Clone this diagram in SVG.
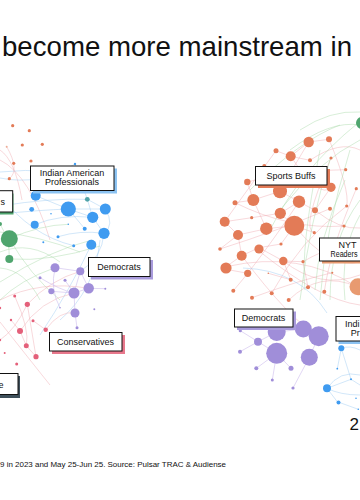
<svg xmlns="http://www.w3.org/2000/svg" width="360" height="500" viewBox="0 0 360 500">
<style>
.t{font-family:"Liberation Sans",Arial,sans-serif;fill:#111}
.lbl{font-size:9px}
.box{fill:#fff;stroke:#111;stroke-width:1}
.o{fill:#E37B57}.b{fill:#3F9BF0}.p{fill:#A08ED9}.g{fill:#4FA56E}.r{fill:#E4607A}.tl{fill:#4FA3A8}
.e{fill:none;stroke-width:0.7}
.eb{stroke:#9CCBF2;opacity:0.65}.eg{stroke:#A9D9A9;opacity:0.65}.er{stroke:#EFA3AB;opacity:0.6}.ep{stroke:#C9B7EC;opacity:0.8}
</style>
<rect width="360" height="500" fill="#fff"/>
<text class="t" x="2" y="56" font-size="28" textLength="350" lengthAdjust="spacingAndGlyphs">become more mainstream in</text>

<g id="connectors">
<path class="e er" d="M0,150 Q15,160 22,200 M6.7,146.7 Q20,170 9.3,178.7 M0,160 Q30,175 50,240"/>
<path class="e eb" d="M0,172 Q50,166 105,183 M0,178 Q40,186 75,164 M0,206 Q50,198 87.3,199.3 M0,214 Q40,210 68.3,209 M35.7,195.7 L68.3,209 L105.3,209 M68.3,209 L92.7,217.3 M87.3,199.3 L92.7,217.3 M87.3,199.3 L105.3,209 M92.7,217.3 L104,233.3 M68.3,209 L84.7,228.7 M34.7,224.7 Q60,214 92.7,217.3 M104,233.3 Q102,258 80.3,271.3 M91.3,244.7 Q70,290 40,335 M105.3,209 Q115,225 104,233.3 M75,164 L87.3,199.3 M58,236.7 Q80,230 104,233.3 M0,195 Q30,235 73.7,245.7 M100,240 Q95,290 60,320"/>
<path class="e eg" d="M0,232 Q40,236 80,252 M0,252 Q30,240 60,262 M9.3,238.7 Q30,275 60,300 M0,282 Q50,250 92,240 M9.3,259 Q50,262 100,246 M0,268 Q25,270 40,300 M9.3,238.7 Q40,225 68.3,224.3 M0,300 Q20,280 55,267.7 M9.3,259 Q10,240 0,224"/>
<path class="e er" d="M20,331 Q40,300 74,293 M27.3,304.3 L36,356.7 M20,331 L26.3,345.7 L36,356.7 M45.7,329.7 Q60,310 75,313 M0,300 Q40,280 88.7,288.3 M14.7,296 Q30,330 26.3,345.7 M0,322 Q30,360 50,385 M11,320 L20,331 M33,320.7 L45.7,329.7 M0,340 Q15,330 27.3,304.3 M27.3,304.3 Q50,280 80.3,271.3"/>
<path class="e ep" d="M55,267.7 L80.3,271.3 L74,293 L88.7,288.3 M51.3,291.3 L74,293 L75,313 M40,277.7 Q60,290 74,293 M55,267.7 Q50,290 60,307.7 M65,280.3 L74,293 M88.7,288.3 L105.3,288.7 M80.3,271.3 L88.7,288.3 M75,313 L77,327.7"/>
<path class="e er" d="M308.7,142 L329,139.3 M290.7,156.3 L308.7,142 M276,150.7 L290.7,156.3 L310,160.3 M264.3,166 L280,191.3 M247.3,182 L253.3,200 L280,191.3 L299,201.7 L315,210.3 L331,187.3 M235,202.7 L253.3,200 M253.3,200 L266.3,228.7 L294.3,225.7 L280.3,213.3 L299,201.7 M224.7,221.7 L238,235 L266.3,228.7 M224.7,221.7 L251.7,217.7 L280.3,213.3 M294.3,225.7 L314.3,232.7 M238,235 L241.7,255.7 L259,247.7 L283.3,261 M226,266.7 L241.7,255.7 M220,249 L238,235 M259,247.7 L281,244 L294.3,225.7 M247.7,273.3 L226,269.3 M290.7,279.7 L283.3,261 M308,287.3 L303,261.7 L283.3,261 M290.7,156.3 Q320,200 331,187.3 M276,150.7 Q240,200 224.7,221.7 M308.7,142 Q280,190 280,191.3 M331,158 Q300,230 314.3,232.7 M329,139.3 Q350,190 346.7,206 M264.3,166 Q300,175 331,187.3 M247.3,182 Q290,170 345.7,169.7 M235,202.7 Q290,230 344,226 M220,249 Q280,230 330,208.7 M226,266.7 Q300,250 356.7,286.7 M252,297.7 Q300,280 332.3,272.7 M233.3,290.7 Q260,260 299,201.7 M271.7,293.3 Q300,240 346.7,206 M288.7,300 Q320,270 356.7,286.7 M324.3,291.7 Q330,250 356.3,188.7 M268.3,273.3 L290.7,279.7 M303,261.7 Q340,240 360,250 M259,251 Q320,300 360,305 M241.7,255.7 Q290,320 318.7,336.3 M283.3,261 Q320,290 360,275 M310,160.3 Q340,140 360,150 M315,210.3 Q340,230 360,228 M294.3,225.7 Q330,270 360,262"/>
<path class="e eg" d="M300,130 Q330,110 360,112 M290,150 Q330,120 360,125 M300,300 Q310,220 330,160 M320,300 Q325,230 350,150 M330,300 Q330,240 360,200 M270,230 Q300,170 358,123 M250,190 Q300,140 340,125 M305,290 Q300,250 320,150 M315,290 Q318,240 345,180 M345,300 Q340,250 360,215 M280,210 Q320,160 360,140"/>
<path class="e eb" d="M243,268 Q300,270 327,313 M341.3,348.3 L337.3,368.7 M341.3,348.3 L351,379.3 M327,388.3 L351,379.3 M327,388.3 L338,402.7 M327,388.3 Q340,370 360,375 M327,388.3 Q340,395 360,395 M341.3,348.3 Q350,345 360,350 M339,402.3 L358.3,409.3 M351,379.3 L360,385"/>
<path class="e ep" d="M258,341.7 L276.7,332 L303.3,329 L318.7,336.3 M240,351.7 L258,341.7 M276.7,353.3 L258,341.7 M276.7,353.3 L291,368.3 M309.3,357.3 L318.7,336.3 M276.7,353.3 L272.3,380 M256.3,368.3 L276.7,353.3 M309.3,357.3 L293,388 M240.3,330.7 L258,341.7"/>
</g>

<g id="nodes-left">
<g class="o"><circle cx="12.7" cy="125.7" r="1.6"/><circle cx="29.3" cy="130.7" r="1.6"/><circle cx="22.3" cy="145" r="1.6"/><circle cx="42.3" cy="144.3" r="1.6"/><circle cx="13.7" cy="163.3" r="1.6"/><circle cx="31" cy="161" r="1.6"/><circle cx="9.3" cy="178.7" r="1.6"/><circle cx="6.7" cy="146.7" r="1" opacity="0.6"/></g>
<g class="b"><circle cx="75" cy="164" r="1.2"/><circle cx="35.7" cy="195.7" r="5"/><circle cx="31.7" cy="209.3" r="2.4"/><circle cx="68.3" cy="209" r="7.6"/><circle cx="105.3" cy="209" r="5.5"/><circle cx="92.7" cy="217.3" r="5.6"/><circle cx="34.7" cy="224.7" r="4"/><circle cx="51" cy="213.7" r="0.8"/><circle cx="68.3" cy="224.3" r="0.8"/><circle cx="84.7" cy="228.7" r="2"/><circle cx="104" cy="233.3" r="5.6"/><circle cx="58" cy="236.7" r="1.5"/><circle cx="43.3" cy="242.3" r="1"/><circle cx="73.7" cy="245.7" r="1.5"/><circle cx="91.3" cy="244.7" r="5"/></g>
<circle class="tl" cx="87.3" cy="199.3" r="2.4"/>
<g class="g"><circle cx="9.3" cy="238.7" r="8.5"/><circle cx="9.3" cy="259" r="4"/><circle cx="0" cy="224" r="2"/></g>
<g class="p"><circle cx="55" cy="267.7" r="4.5"/><circle cx="80.3" cy="271.3" r="4"/><circle cx="40" cy="277.7" r="1.5"/><circle cx="65" cy="280.3" r="1.5"/><circle cx="88.7" cy="288.3" r="5.2"/><circle cx="74" cy="293" r="5.5"/><circle cx="51.3" cy="291.3" r="3"/><circle cx="105.3" cy="288.7" r="1"/><circle cx="60" cy="307.7" r="0.8"/><circle cx="75" cy="313" r="4.5"/><circle cx="94.3" cy="309.3" r="1"/><circle cx="77" cy="327.7" r="1.5"/></g>
<g class="r"><circle cx="14.7" cy="296" r="1.5"/><circle cx="27.3" cy="304.3" r="2.6"/><circle cx="0" cy="308" r="1.2"/><circle cx="11" cy="320" r="1.2"/><circle cx="33" cy="320.7" r="1.5"/><circle cx="20" cy="331" r="3"/><circle cx="45.7" cy="329.7" r="2.2"/><circle cx="0" cy="340" r="1.2"/><circle cx="26.3" cy="345.7" r="2.5"/><circle cx="4.7" cy="353" r="1"/><circle cx="36" cy="356.7" r="2.6"/><circle cx="16.7" cy="364" r="1.5"/></g>
</g>

<g id="nodes-right">
<circle class="g" cx="362" cy="123" r="6"/>
<g class="o"><circle cx="308.7" cy="142" r="5.2"/><circle cx="329" cy="139.3" r="3"/><circle cx="276" cy="150.7" r="2.5"/><circle cx="290.7" cy="156.3" r="5"/><circle cx="310" cy="160.3" r="2"/><circle cx="331" cy="158" r="1.6"/><circle cx="345.7" cy="169.7" r="1.6"/><circle cx="264.3" cy="166" r="2"/><circle cx="247.3" cy="182" r="3.2"/><circle cx="331" cy="187.3" r="4.6"/><circle cx="356.3" cy="188.7" r="1.6"/><circle cx="280" cy="191.3" r="7"/><circle cx="253.3" cy="200" r="6"/><circle cx="299" cy="201.7" r="6.2"/><circle cx="235" cy="202.7" r="2.5"/><circle cx="315" cy="210.3" r="3"/><circle cx="330" cy="208.7" r="2"/><circle cx="346.7" cy="206" r="1.6"/><circle cx="280.3" cy="213.3" r="5.6"/><circle cx="251.7" cy="217.7" r="1.6"/><circle cx="224.7" cy="221.7" r="5"/><circle cx="294.3" cy="225.7" r="10"/><circle cx="266.3" cy="228.7" r="6.2"/><circle cx="344" cy="226" r="1.6"/><circle cx="238" cy="235" r="5"/><circle cx="314.3" cy="232.7" r="1.6"/><circle cx="220" cy="249" r="1.8"/><circle cx="259" cy="249" r="4.6"/><circle cx="281" cy="244" r="1.6"/><circle cx="241.7" cy="255.7" r="5"/><circle cx="226" cy="268" r="5.6"/><circle cx="247.7" cy="273.3" r="3.6"/><circle cx="283.3" cy="261" r="4.2"/><circle cx="303" cy="261.7" r="1.6"/><circle cx="268.3" cy="273.3" r="0.8"/><circle cx="290.7" cy="279.7" r="2"/><circle cx="332.3" cy="272.7" r="1"/><circle cx="233.3" cy="290.7" r="2"/><circle cx="271.7" cy="293.3" r="2"/><circle cx="252" cy="297.7" r="2"/><circle cx="308" cy="287.3" r="2"/><circle cx="324.3" cy="291.7" r="2"/><circle cx="288.7" cy="300" r="2"/></g>
<circle cx="358" cy="286.7" r="8.5" fill="#E89A70"/>
<g class="p"><circle cx="240.3" cy="330.7" r="1.6"/><circle cx="276.7" cy="332" r="9"/><circle cx="303.3" cy="329" r="8.5"/><circle cx="318.7" cy="336.3" r="10"/><circle cx="258" cy="341.7" r="4"/><circle cx="240" cy="351.7" r="2"/><circle cx="276.7" cy="353.3" r="10.5"/><circle cx="309.3" cy="357.3" r="8.5"/><circle cx="256.3" cy="368.3" r="2"/><circle cx="291" cy="368.3" r="2.5"/><circle cx="272.3" cy="380" r="1.5"/><circle cx="293" cy="388" r="1.6"/></g>
<g class="b"><circle cx="341.3" cy="348.3" r="3"/><circle cx="337.3" cy="368.7" r="0.9"/><circle cx="351" cy="379.3" r="1"/><circle cx="327" cy="388.3" r="4"/><circle cx="338.5" cy="402.5" r="2"/><circle cx="356" cy="398.3" r="0.8"/><circle cx="358.3" cy="409.3" r="0.8"/></g>
</g>

<g id="label-left-s"><rect x="-2" y="193.5" width="15.5" height="21" fill="#4FA56E"/><rect class="box" x="-2" y="190.7" width="14.7" height="21.3"/><text class="t lbl" x="5" y="204.5" text-anchor="end">s</text></g>
<g id="label-indian-american-left"><rect x="33" y="168.5" width="84" height="25" fill="#8CC3F2"/><rect class="box" x="30.5" y="166" width="83.5" height="24.5"/><text class="t lbl" text-anchor="middle" x="72" y="175.5">Indian American</text><text class="t lbl" text-anchor="middle" x="72" y="185">Professionals</text></g>
<g id="label-democrats-left"><rect x="91" y="260" width="62" height="19.5" fill="#A99BDC"/><rect class="box" x="88.5" y="257.5" width="61.5" height="19"/><text class="t lbl" text-anchor="middle" x="119" y="270">Democrats</text></g>
<g id="label-conservatives"><rect x="52" y="335" width="73" height="19" fill="#E8788C"/><rect class="box" x="49.5" y="332.5" width="72.5" height="18.5"/><text class="t lbl" text-anchor="middle" x="85.5" y="344.7">Conservatives</text></g>
<g id="label-left-e"><rect x="-2" y="376" width="22" height="22" fill="#3E4F5A"/><rect class="box" x="-2" y="373.5" width="20" height="21"/><text class="t lbl" x="3.5" y="388" text-anchor="end">e</text></g>

<g id="label-sports-buffs"><rect x="258" y="169" width="72" height="19" fill="#E37B57"/><rect class="box" x="255.5" y="166.5" width="71.5" height="18.5"/><text class="t lbl" text-anchor="middle" x="291" y="179">Sports Buffs</text></g>
<g id="label-nyt"><rect x="322" y="240.5" width="40" height="23" fill="#E89A70"/><rect class="box" x="319.5" y="238" width="42" height="23"/><text class="t lbl" x="338.5" y="247.8">NYT</text><text class="t" font-size="8.5" x="330.5" y="257.3" textLength="27" lengthAdjust="spacingAndGlyphs">Readers</text></g>
<g id="label-democrats-right"><rect x="237" y="311.5" width="59" height="18.5" fill="#A99BDC"/><rect class="box" x="234.5" y="309" width="58.5" height="18"/><text class="t lbl" text-anchor="middle" x="263.5" y="321.3">Democrats</text></g>
<g id="label-indian-right"><rect x="338.5" y="319" width="24" height="25" fill="#8CC3F2"/><rect class="box" x="336" y="316.5" width="26" height="24.5"/><text class="t lbl" x="345" y="326.5">Indi</text><text class="t lbl" x="350.7" y="335.5">Pr</text></g>

<text class="t" x="349.5" y="430" font-size="17">2</text>
<text class="t" x="0" y="466.5" font-size="7.5" textLength="226" lengthAdjust="spacingAndGlyphs">9 in 2023 and May 25-Jun 25. Source: Pulsar TRAC &amp; Audiense</text>
</svg>
